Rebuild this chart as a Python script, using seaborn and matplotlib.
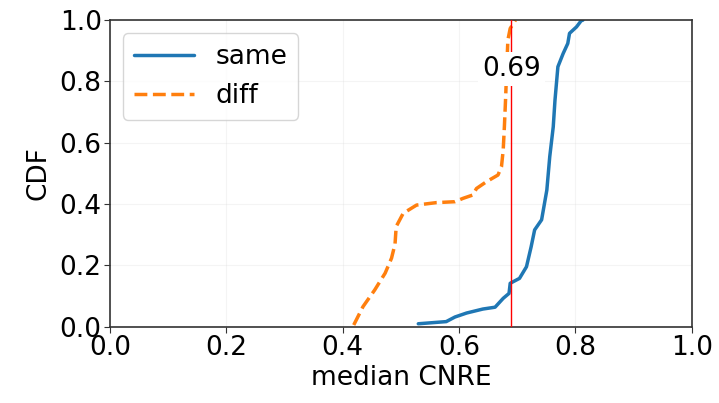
import matplotlib
matplotlib.use("Agg")
import matplotlib.pyplot as plt
import seaborn as sns
import pandas as pd

same_x = [0.530, 0.578, 0.593, 0.613, 0.641, 0.662, 0.676, 0.686, 0.688, 0.704, 0.716,
          0.724, 0.730, 0.742, 0.751, 0.756, 0.762, 0.765, 0.770, 0.779, 0.787, 0.790,
          0.802, 0.810, 0.813]
same_cdf = [0.010, 0.017, 0.032, 0.045, 0.058, 0.064, 0.093, 0.109, 0.142, 0.158, 0.196,
            0.261, 0.316, 0.349, 0.446, 0.555, 0.652, 0.739, 0.848, 0.891, 0.924, 0.957,
            0.978, 0.998, 1.000]

diff_x = [0.419, 0.435, 0.455, 0.473, 0.484, 0.490, 0.492, 0.504, 0.527, 0.561, 0.593,
          0.607, 0.624, 0.630, 0.647, 0.667, 0.673, 0.676, 0.678, 0.680, 0.682, 0.684,
          0.688, 0.697]
diff_cdf = [0.006, 0.066, 0.120, 0.175, 0.224, 0.270, 0.327, 0.370, 0.397, 0.405, 0.408,
            0.419, 0.430, 0.451, 0.473, 0.495, 0.522, 0.577, 0.652, 0.740, 0.840, 0.935,
            0.973, 1.000]

threshold = 0.69
threshold_label = "0.69"

sns.set_style("ticks")
plt.rcParams['font.family'] = ['DejaVu Sans']
plt.rcParams.update({"text.color": "black", "axes.labelcolor": "black",
                     "xtick.color": "black", "ytick.color": "black"})

FS = 19

fig = plt.figure(figsize=(7.19, 4.03), dpi=100)
ax = fig.add_axes([0.153, 0.189, 0.809, 0.761])

df_same = pd.DataFrame({"x": same_x, "cdf": same_cdf})
df_diff = pd.DataFrame({"x": diff_x, "cdf": diff_cdf})

sns.lineplot(data=df_same, x="x", y="cdf", sort=False, estimator=None, ax=ax,
             color="#1f77b4", linewidth=2.5, label="same", zorder=2)
sns.lineplot(data=df_diff, x="x", y="cdf", sort=False, estimator=None, ax=ax,
             color="#ff7f0e", linewidth=2.5, linestyle="--", label="diff", zorder=2)

ax.axvline(threshold, color="red", linewidth=1.0, zorder=3)
ax.text(threshold, 0.84, threshold_label, ha="center", va="center", fontsize=FS,
        zorder=5, bbox=dict(facecolor="white", edgecolor="none", pad=3))

ax.set_xlim(0, 1)
ax.set_ylim(0, 1)
ax.set_xticks([0, 0.2, 0.4, 0.6, 0.8, 1.0])
ax.set_yticks([0, 0.2, 0.4, 0.6, 0.8, 1.0])
ax.set_xlabel("median CNRE", fontsize=FS, labelpad=3)
ax.set_ylabel("CDF", fontsize=FS, labelpad=6)
ax.tick_params(labelsize=FS, length=4, color="#333333", pad=2)
ax.grid(True, alpha=0.2)
for s in ax.spines.values():
    s.set_visible(True)
    s.set_color("#333333")
    s.set_linewidth(1.2)

leg = ax.legend(loc="upper left", fontsize=FS, frameon=True, handlelength=2.3)
leg.get_frame().set_edgecolor("#cccccc")
leg.set_zorder(6)

fig.savefig("out.png", dpi=100)
